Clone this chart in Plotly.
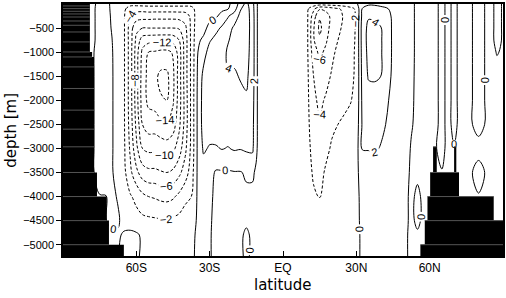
import numpy as np
import plotly.graph_objects as go

LAND = -0.05  # streamfunction value assigned under topography (hidden by black)

depth_levels = [0, 100, 250, 500, 750, 1000, 1500, 2000, 2500, 3000, 3500, 4000, 4500, 4800, 5235]

# ---- overturning streamfunction [Sv], one profile (over depth_levels) per latitude ----
lat_south = [-90, -80, -77.5, -75, -72.5, -70, -67.5, -65, -62.5, -60,
             -57.5, -55, -52.5, -50, -47.5, -45, -42.5, -40, -37.5, -35]
psi_south = [
    [LAND] * 15,
    [LAND] * 15,
    [-0.2, -0.2, -0.2, -0.2, -0.2, LAND, LAND, LAND, LAND, LAND, LAND, LAND, LAND, LAND, LAND],
    [0.4, 0.6, 0.6, 0.6, 0.6, 0.6, 0.6, 0.6, 0.6, 0.6, 0.5, LAND, LAND, LAND, LAND],
    [0.5, 0.6, 0.6, 0.6, 0.6, 0.6, 0.6, 0.6, 0.6, 0.6, 0.6, LAND, LAND, LAND, LAND],
    [-0.3, -0.3, -0.2, -0.1, 0.05, 0.15, 0.2, 0.2, 0.2, 0.2, 0.2, 0.5, 0.4, -0.3, LAND],
    [-0.6, -0.9, -1.0, -1.0, -1.0, -1.0, -1.0, -1.0, -1.0, -1.0, -0.9, -0.2, 0.3, -0.3, LAND],
    [-1.2, -1.6, -1.8, -1.8, -1.8, -1.8, -1.8, -1.8, -1.8, -1.7, -1.5, -1.2, -0.8, 0.3, 0.3],
    [-1.3, -3.0, -4.2, -5.0, -5.0, -5.0, -5.0, -5.0, -4.8, -4.3, -3.5, -1.8, -1.0, 0.5, 0.5],
    [-1.3, -3.2, -5.0, -7.5, -8.5, -9.0, -9.0, -9.0, -8.5, -7.5, -5.5, -2.5, -1.3, 0.3, 0.3],
    [-1.2, -3.2, -5.2, -8.0, -11.0, -12.5, -13.0, -13.0, -12.0, -10.0, -7.0, -3.5, -1.5, -0.3, -0.3],
    [-1.2, -3.0, -5.2, -8.0, -11.3, -14.0, -14.6, -14.5, -13.0, -10.5, -7.5, -4.0, -1.6, -0.5, -0.3],
    [-1.2, -3.0, -5.3, -8.0, -11.4, -14.2, -15.5, -14.8, -13.0, -10.5, -7.5, -4.2, -1.7, -0.6, -0.3],
    [-1.2, -3.0, -5.3, -8.0, -11.5, -14.5, -16.5, -15.8, -13.5, -10.8, -7.8, -4.5, -1.8, -0.6, -0.3],
    [-1.2, -3.0, -5.3, -8.0, -11.5, -14.5, -16.5, -16.0, -13.8, -11.0, -8.0, -4.6, -1.9, -0.7, -0.3],
    [-1.2, -3.0, -5.3, -8.0, -11.3, -13.8, -14.5, -14.3, -13.0, -10.5, -7.6, -4.3, -1.6, -0.6, -0.3],
    [-1.2, -3.0, -5.2, -7.8, -10.0, -11.0, -11.0, -11.0, -10.5, -9.0, -6.5, -3.5, -1.4, -0.5, -0.3],
    [-1.2, -3.0, -5.0, -6.5, -7.0, -7.0, -7.0, -7.2, -7.2, -6.5, -5.0, -2.5, -1.0, -0.4, -0.3],
    [-1.2, -2.8, -3.5, -3.5, -3.5, -3.5, -3.5, -3.5, -3.5, -3.5, -3.0, -2.0, -0.8, -0.3, -0.2],
    [-1.0, -1.0, -0.8, -0.6, -0.3, -0.1, 0.1, 0.2, 0.2, 0.2, 0.2, 0.2, 0.2, 0.2, 0.2],
]

lat_tropics = [-32.5, -30, -27.5, -25, -22.5, -20, -17.5, -15, -12.5, -11, -10, -5, 0, 5,
               10, 12.5, 15, 17.5, 20, 22.5, 25, 27.5, 30]
psi_tropics = [
    [-0.9, -0.8, -0.7, -0.5, 0.3, 1.2, 2.6, 2.9, 2.9, 2.3, 1.0, 0.6, 0.4, 0.3, 0.3],
    [-0.7, -0.6, -0.5, 0.5, 1.8, 2.8, 3.2, 3.3, 3.1, 1.8, 0.7, 0.3, 0.15, 0.1, 0.1],
    [-0.5, -0.5, -0.3, 1.4, 2.6, 3.1, 3.4, 3.4, 3.2, 1.8, -0.2, -0.3, -0.3, -0.3, -0.3],
    [-0.35, -0.35, 0.6, 2.3, 3.1, 3.5, 3.6, 3.6, 3.3, 2.1, -0.2, -0.3, -0.3, -0.3, -0.3],
    [-0.2, -0.1, 1.8, 3.3, 3.9, 4.2, 3.9, 3.7, 3.2, 1.9, -0.2, -0.3, -0.3, -0.3, -0.3],
    [0.4, 1.0, 3.0, 4.3, 4.4, 4.4, 3.8, 3.6, 3.0, 2.2, -0.1, -0.3, -0.3, -0.3, -0.3],
    [3.0, 3.8, 4.4, 4.6, 4.6, 4.5, 4.1, 3.6, 3.0, 2.1, -0.1, -0.3, -0.3, -0.3, -0.3],
    [4.5, 4.8, 4.8, 4.8, 4.7, 4.6, 4.3, 3.8, 3.0, 2.3, 0.2, -0.3, -0.3, 0.3, 0.3],
    [2.8, 3.0, 3.2, 3.3, 3.3, 3.3, 3.2, 2.9, 2.6, 2.4, 0.2, -0.3, -0.3, -0.3, -0.3],
    [0.4, 0.4, 0.4, 0.4, 0.4, 0.4, 0.4, 0.4, 0.4, 0.3, -0.2, -0.3, -0.3, -0.3, -0.3],
    [-0.4, -0.4, -0.4, -0.4, -0.4, -0.4, -0.4, -0.4, -0.4, -0.4, -0.4, -0.4, -0.4, -0.4, -0.4],
    [-0.5, -0.5, -0.5, -0.5, -0.5, -0.5, -0.5, -0.5, -0.5, -0.5, -0.5, -0.5, -0.5, -0.5, -0.5],
    [-0.6, -0.6, -0.6, -0.6, -0.6, -0.6, -0.6, -0.6, -0.6, -0.6, -0.6, -0.5, -0.5, -0.5, -0.5],
    [-0.8, -1.0, -1.0, -1.0, -1.0, -1.0, -1.0, -0.9, -0.8, -0.7, -0.6, -0.5, -0.4, -0.4, -0.4],
    [-0.8, -1.7, -1.8, -1.8, -1.8, -1.8, -1.7, -1.6, -1.5, -1.3, -1.1, -0.9, -0.6, -0.4, -0.4],
    [-0.8, -3.5, -5.0, -5.8, -5.8, -5.0, -4.0, -3.6, -3.2, -2.8, -2.3, -1.7, -0.8, -0.5, -0.4],
    [-1.0, -5.8, -7.8, -8.5, -7.6, -6.5, -5.2, -4.4, -3.8, -3.2, -2.5, -2.1, -0.8, -0.5, -0.4],
    [-1.0, -5.5, -6.8, -6.8, -6.3, -5.6, -4.6, -3.8, -3.0, -2.4, -1.8, -1.2, -0.6, -0.4, -0.4],
    [-1.0, -4.8, -5.5, -5.3, -4.9, -4.4, -3.8, -3.0, -2.3, -1.8, -1.2, -0.8, -0.5, -0.4, -0.4],
    [-0.9, -4.2, -4.6, -4.4, -4.0, -3.6, -3.1, -2.6, -2.0, -1.4, -1.0, -0.7, -0.5, -0.4, -0.4],
    [-0.7, -3.6, -3.8, -3.6, -3.2, -2.9, -2.6, -2.3, -1.8, -1.2, -0.8, -0.6, -0.4, -0.4, -0.4],
    [-0.4, -2.8, -3.0, -2.8, -2.6, -2.4, -2.3, -2.1, -1.5, -1.0, -0.7, -0.5, -0.4, -0.4, -0.4],
    [-0.2, -1.6, -1.8, -1.8, -1.8, -1.8, -1.8, -1.6, -1.2, -0.8, -0.6, -0.5, -0.4, -0.4, -0.4],
]

lat_north = [32.5, 35, 37.5, 40, 45, 50, 52.5, 55, 57.5, 60, 62.5, 65, 67.5, 70,
             72.5, 75, 80, 85, 87.5, 90]
psi_north = [
    [0.8, 2.2, 2.6, 3.0, 3.0, 2.9, 2.7, 2.5, 2.3, 2.1, 1.2, 0.6, 0.4, 0.3, 0.3],
    [1.5, 3.5, 3.8, 4.5, 4.6, 4.5, 4.2, 3.0, 2.5, 2.1, 1.0, 0.5, 0.4, 0.3, 0.3],
    [1.5, 3.3, 3.7, 4.4, 4.6, 4.5, 4.3, 3.0, 2.5, 2.2, 1.0, 0.5, 0.4, 0.3, 0.3],
    [1.2, 2.8, 3.5, 4.1, 4.2, 4.2, 4.0, 2.9, 2.4, 1.9, 1.0, 0.5, 0.4, 0.3, 0.3],
    [0.9, 1.5, 1.7, 1.7, 1.7, 1.7, 1.6, 1.5, 1.4, 1.3, 0.8, 0.4, 0.3, 0.3, 0.3],
    [0.6, 0.8, 0.8, 0.8, 0.8, 0.8, 0.8, 0.7, 0.6, 0.5, 0.4, 0.3, 0.3, 0.2, 0.2],
    [0.3, 0.3, 0.3, 0.3, 0.3, 0.3, 0.25, 0.2, 0.1, -0.1, -0.2, -0.3, -0.3, -0.3, -0.3],
    [-0.3, -0.3, -0.3, -0.3, -0.3, -0.3, -0.3, -0.3, -0.3, -0.3, -0.3, 0.3, 0.3, -0.2, -0.2],
    [-0.3, -0.3, -0.3, -0.3, -0.3, -0.3, -0.3, -0.3, -0.3, -0.3, -0.3, -0.3, -0.3, -0.3, LAND],
    [-0.3, -0.3, -0.3, -0.3, -0.3, -0.3, -0.3, -0.3, -0.3, -0.3, -0.3, LAND, LAND, LAND, LAND],
    [-0.2, -0.2, -0.2, -0.2, -0.2, -0.2, -0.2, -0.2, -0.2, LAND, LAND, LAND, LAND, LAND, LAND],
    [0.3, 0.3, 0.3, 0.3, 0.3, 0.3, 0.3, 0.3, 0.3, 0.3, LAND, LAND, LAND, LAND, LAND],
    [-0.3, -0.3, -0.3, -0.3, -0.3, -0.3, -0.3, -0.3, -0.3, -0.3, LAND, LAND, LAND, LAND, LAND],
    [0.3, 0.3, 0.3, 0.3, 0.3, 0.3, 0.3, 0.3, 0.3, LAND, LAND, LAND, LAND, LAND, LAND],
    [-0.3, -0.3, -0.3, -0.3, -0.3, -0.3, -0.3, -0.3, -0.3, -0.3, -0.3, LAND, LAND, LAND, LAND],
    [-0.3, -0.3, -0.3, -0.3, -0.3, -0.3, -0.3, -0.3, -0.3, -0.3, -0.3, LAND, LAND, LAND, LAND],
    [0.3, 0.3, 0.3, 0.3, 0.3, 0.3, 0.3, 0.3, 0.3, -0.3, 0.3, LAND, LAND, LAND, LAND],
    [-0.3, -0.3, -0.3, -0.3, -0.3, -0.3, -0.3, -0.3, -0.3, -0.3, -0.3, LAND, LAND, LAND, LAND],
    [0.3, 0.3, 0.3, 0.3, 0.3, 0.05, -0.3, -0.3, -0.3, -0.3, -0.3, -0.3, LAND, LAND, LAND],
    [-0.1, -0.1, -0.1, -0.1, -0.1, -0.1, -0.3, -0.3, -0.3, -0.3, -0.3, -0.3, LAND, LAND, LAND],
]

# ---- topography (model levels) ----
level_top = [0, 40, 96, 151, 207, 270, 353, 442, 581, 788, 996, 1100, 1307, 1755, 2205,
             2600, 2967, 3500, 4000, 4500, 5000]
level_bot = [40, 96, 151, 207, 270, 353, 442, 581, 788, 996, 1100, 1307, 1755, 2205, 2600,
             2967, 3500, 4000, 4500, 5000, 5235]
south_edge = [-79.0, -79.0, -79.0, -79.0, -79.0, -79.0, -79.0, -79.0, -79.0, -79.0, -78.1,
              -77.3, -77.3, -77.3, -77.3, -77.3, -77.3, -76.1, -72.1, -71.2, -65.1]
north_top = [2967, 2967, 3500, 4000, 4500, 5000]
north_bot = [3500, 3500, 4000, 4500, 5000, 5235]
north_lat0 = [61.4, 70.0, 60.2, 59.1, 58.0, 56.2]
north_lat1 = [62.9, 70.9, 72.0, 86.2, 90.0, 90.0]

tick_depths = [-500, -1000, -1500, -2000, -2500, -3000, -3500, -4000, -4500, -5000]
tick_lats = [-60, -30, 0, 30, 60]
tick_lat_labels = ["60S", "30S", "EQ", "30N", "60N"]

lat = lat_south + lat_tropics + lat_north
z = np.array(psi_south + psi_tropics + psi_north).T
ydep = [-d for d in depth_levels]

fig = go.Figure()
common = dict(x=lat, y=ydep, z=z, showscale=False, hoverinfo="skip",
              colorscale=[[0, "black"], [1, "black"]])
lab = dict(size=11, color="black", family="Liberation Sans")
fig.add_trace(go.Contour(
    **common, autocontour=False,
    contours=dict(start=-16, end=-2, size=2, coloring="none", showlabels=True, labelfont=lab),
    line=dict(color="black", width=1, dash="3px,2px", smoothing=1.0)))
fig.add_trace(go.Contour(
    **common, autocontour=False,
    contours=dict(start=0, end=4, size=2, coloring="none", showlabels=True, labelfont=lab),
    line=dict(color="black", width=1, smoothing=1.0)))

# black topography
tx, ty = [], []
for t, b, e in zip(level_top, level_bot, south_edge):
    tx += [-90, e, e, -90, -90, None]
    ty += [-t, -t, -b, -b, -t, None]
for t, b, a, c in zip(north_top, north_bot, north_lat0, north_lat1):
    tx += [a, c, c, a, a, None]
    ty += [-t, -t, -b, -b, -t, None]
fig.add_trace(go.Scatter(x=tx, y=ty, mode="lines", fill="toself", fillcolor="black",
                         line=dict(width=0, color="black"), hoverinfo="skip", showlegend=False))
# grey level boundaries inside the land
gx, gy = [], []
for i in range(1, len(level_top)):
    e = min(south_edge[i - 1], south_edge[i])
    gx += [-90, e, None]
    gy += [-level_top[i], -level_top[i], None]
for t, a, c in zip(north_top, north_lat0, north_lat1):
    gx += [a, c, None]
    gy += [-t, -t, None]
fig.add_trace(go.Scatter(x=gx, y=gy, mode="lines", line=dict(width=1, color="#555555"),
                         hoverinfo="skip", showlegend=False))

fig.update_layout(
    width=506, height=298, margin=dict(l=63, r=1, t=4, b=42),
    paper_bgcolor="white", plot_bgcolor="white", showlegend=False,
    xaxis=dict(range=[-90, 90], tickvals=tick_lats, ticktext=tick_lat_labels,
               ticks="inside", ticklen=5, tickcolor="black", showline=True, mirror=True,
               linecolor="black", linewidth=1.5, showgrid=False, zeroline=False,
               tickfont=dict(family="Liberation Sans", size=12, color="black")),
    yaxis=dict(range=[-5235, 0], tickvals=tick_depths, ticks="outside", ticklen=5,
               tickcolor="black", showline=True, mirror=True, linecolor="black", linewidth=1.5,
               showgrid=False, zeroline=False,
               tickfont=dict(family="Liberation Sans", size=11, color="black")),
    annotations=[
        dict(text="latitude", xref="paper", yref="paper", x=0.5, y=-0.117, showarrow=False,
             xanchor="center", yanchor="middle",
             font=dict(family="DejaVu Sans", size=15, color="black")),
        dict(text="depth [m]", xref="paper", yref="paper", x=-0.1188, y=0.5, showarrow=False,
             xanchor="center", yanchor="middle", textangle=-90,
             font=dict(family="DejaVu Sans", size=15, color="black")),
    ],
)
fig.write_html("out.html")
